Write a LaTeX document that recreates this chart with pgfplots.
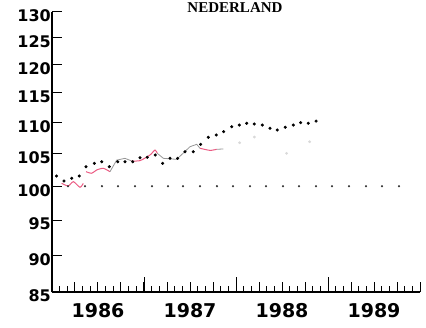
\documentclass[border=0pt]{standalone}
\usepackage{pgfplots}
\pgfplotsset{compat=1.18}
\usepackage{fontspec}
\setmainfont{DejaVu Sans}
\newfontfamily\titlefont{Liberation Serif}
\definecolor{pinkline}{RGB}{235,90,130}
\definecolor{greyline}{RGB}{150,150,150}
\pgfplotsset{
  commonframe/.style={
    at={(52pt,35pt)}, anchor=south west,
    scale only axis, width=368pt, height=280pt,
    xmin=1986, xmax=1990, ymin=85, ymax=130,
    y coord trafo/.code={\pgfmathparse{-(4.978*(130-##1)+0.02765*(130-##1)*(130-##1))}},
    axis line style={line width=1.3pt, -},
    tick align=inside,
    major tick style={black, line width=1pt},
  },
  tickonly/.style={commonframe, axis x line*=bottom, hide y axis, xticklabels={}},
}
\begin{document}
\begin{tikzpicture}[x=1pt,y=1pt]
\useasboundingbox (0,0) rectangle (426,327);
\node[anchor=base, font=\titlefont\bfseries\fontsize{15}{15}\selectfont] at (235,314) {NEDERLAND};
% year ticks (tallest)
\begin{axis}[tickonly, major tick length=15pt, xtick={1987,1988,1989}]
\addplot[draw=none] coordinates {(1986,100)};
\end{axis}
% monthly ticks (short)
\begin{axis}[tickonly, major tick length=6.5pt,
  xtick={1986.0833,1986.1667,1986.3333,1986.4167,1986.5833,1986.6667,1986.8333,1986.9167,
    1987.0833,1987.1667,1987.3333,1987.4167,1987.5833,1987.6667,1987.8333,1987.9167,
    1988.0833,1988.1667,1988.3333,1988.4167,1988.5833,1988.6667,1988.8333,1988.9167,
    1989.0833,1989.1667,1989.3333,1989.4167,1989.5833,1989.6667,1989.8333,1989.9167}]
\addplot[draw=none] coordinates {(1986,100)};
\end{axis}
\begin{axis}[commonframe,
  axis x line*=bottom, axis y line*=left,
  major tick length=10pt,
  ytick={85,90,95,100,105,110,115,120,125,130},
  yticklabels={85,90,95,100,105,110,115,120,125,130},
  yticklabel style={font=\bfseries\fontsize{16}{16}\selectfont, inner sep=1pt, yshift=-4pt},
  xtick={1986,1986.25,1986.5,1986.75,1987,1987.25,1987.5,1987.75,1988,1988.25,1988.5,1988.75,1989,1989.25,1989.5,1989.75,1990},
  xticklabels={,,1986,,,,1987,,,,1988,,,,1989,,},
  xticklabel style={font=\bfseries\fontsize{19}{19}\selectfont, inner sep=0pt, yshift=-11pt},
  clip=false,
]
% reference line at 100
\addplot[only marks, mark=*, mark size=0.9pt, black!80] coordinates {
(1986.174,100)(1986.359,100)(1986.543,100)(1986.717,100)(1986.902,100)
(1987.087,100)(1987.261,100)(1987.424,100)(1987.609,100)(1987.793,100)
(1987.967,100)(1988.152,100)(1988.326,100)(1988.511,100)(1988.685,100)
(1988.870,100)(1989.043,100)(1989.228,100)(1989.413,100)(1989.587,100)
(1989.772,100)};
% faint light series
\addplot[only marks, mark=*, mark size=1.2pt, black!15] coordinates {
(1988.04,106.74)(1988.20,107.65)(1988.55,105.06)(1988.80,106.9)};
% pink / grey line
\addplot[pinkline, line width=1pt, smooth, tension=0.4] coordinates {
(1986.105,100.43)(1986.177,100.04)(1986.232,100.69)(1986.304,99.84)(1986.340,100.43)};
\addplot[pinkline, line width=1pt, smooth, tension=0.4] coordinates {
(1986.370,102.21)(1986.432,101.97)(1986.486,102.48)(1986.558,102.73)(1986.630,102.21)};
\addplot[greyline, line width=0.8pt] coordinates {
(1986.630,102.21)(1986.703,104.0)(1986.793,104.28)(1986.866,103.87)};
\addplot[pinkline, line width=1pt, smooth, tension=0.4] coordinates {
(1986.866,103.87)(1986.957,103.92)(1987.065,104.8)(1987.120,105.59)(1987.145,105.06)};
\addplot[greyline, line width=0.8pt] coordinates {
(1987.145,105.06)(1987.210,104.28)(1987.355,104.12)(1987.500,106.11)(1987.573,106.49)(1987.609,105.86)};
\addplot[pinkline, line width=1pt, smooth, tension=0.4] coordinates {
(1987.609,105.86)(1987.717,105.53)(1987.790,105.7)};
\addplot[greyline, line width=0.8pt] coordinates {
(1987.790,105.7)(1987.862,105.75)};
% black dotted series
\addplot[only marks, mark=*, mark size=1.35pt, black] coordinates {
(1986.050,101.55)(1986.130,100.79)(1986.214,101.2)(1986.297,101.55)
(1986.370,102.98)(1986.460,103.5)(1986.540,103.75)(1986.623,102.98)
(1986.714,103.75)(1986.793,103.75)(1986.877,103.75)(1986.957,104.38)
(1987.036,104.44)(1987.123,104.8)(1987.203,103.5)(1987.283,104.28)
(1987.366,104.28)(1987.446,105.32)(1987.536,105.32)(1987.616,106.49)
(1987.699,107.61)(1987.786,107.99)(1987.866,108.52)(1987.953,109.33)
(1988.036,109.6)(1988.116,109.89)(1988.199,109.77)(1988.286,109.6)
(1988.370,109.08)(1988.449,108.79)(1988.536,109.24)(1988.623,109.6)
(1988.703,110.0)(1988.786,109.89)(1988.870,110.25)};
\end{axis}
\end{tikzpicture}
\end{document}
